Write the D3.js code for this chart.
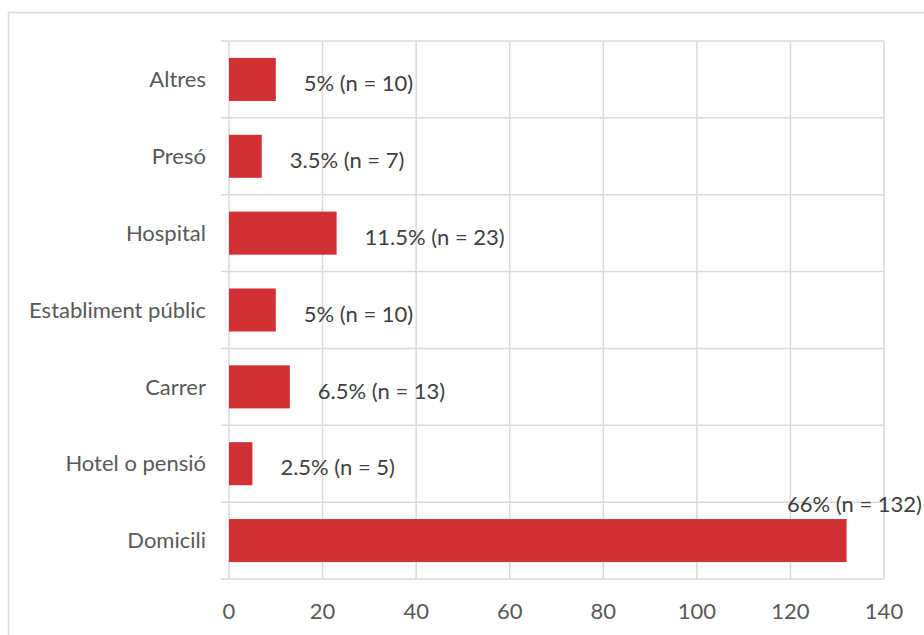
<!DOCTYPE html>
<html>
<head>
<meta charset="utf-8">
<script src="https://cdn.jsdelivr.net/npm/d3@7"></script>
<style>
  body { margin: 0; background: #fff; }
  text { font-family: Lato, "Open Sans", sans-serif; fill: #595959; }
</style>
</head>
<body>
<svg width="924" height="635"></svg>
<script>
// data, top to bottom as in the chart
var categories = ["Altres", "Presó", "Hospital", "Establiment públic", "Carrer", "Hotel o pensió", "Domicili"];
var counts = [10, 7, 23, 10, 13, 5, 132];
var percents = ["5%", "3.5%", "11.5%", "5%", "6.5%", "2.5%", "66%"];
var xTicks = [0, 20, 40, 60, 80, 100, 120, 140];

var data = categories.map(function(c, i) {
    return { name: c, n: counts[i], pct: percents[i] };
});

var svg = d3.select("svg"),
    width = +svg.attr("width"),
    height = +svg.attr("height");

var plotLeft = 229, plotRight = 884, plotTop = 41, plotBottom = 579;
var fontSize = 22;

// chart border
svg.append("rect")
    .attr("x", 8.5).attr("y", 12.5)
    .attr("width", width + 10).attr("height", height + 10)
    .attr("fill", "none")
    .attr("stroke", "#d9d9d9")
    .attr("stroke-width", 1.5);

var x = d3.scaleLinear().domain([0, 140]).range([plotLeft, plotRight]);
var y = d3.scaleBand()
    .domain(categories)
    .range([plotTop, plotBottom])
    .paddingInner(0.44)
    .paddingOuter(0.22);

var g = svg.append("g");

// vertical gridlines
g.selectAll(".vgrid")
    .data(xTicks)
    .enter().append("line")
    .attr("x1", function(d) { return x(d); })
    .attr("x2", function(d) { return x(d); })
    .attr("y1", plotTop).attr("y2", plotBottom)
    .attr("stroke", "#d9d9d9")
    .attr("stroke-width", 1.5);

// horizontal lines at category boundaries
var step = y.step();
g.selectAll(".hgrid")
    .data(d3.range(categories.length + 1))
    .enter().append("line")
    .attr("x1", plotLeft - 8).attr("x2", plotRight)
    .attr("y1", function(i) { return plotTop + i * step; })
    .attr("y2", function(i) { return plotTop + i * step; })
    .attr("stroke", "#d9d9d9")
    .attr("stroke-width", 1.5);

// bars
g.selectAll(".bar")
    .data(data)
    .enter().append("rect")
    .attr("class", "bar")
    .attr("x", x(0))
    .attr("y", function(d) { return y(d.name); })
    .attr("width", function(d) { return x(d.n) - x(0); })
    .attr("height", y.bandwidth())
    .attr("fill", "#d13034");

// category labels
g.selectAll(".cat")
    .data(data)
    .enter().append("text")
    .attr("x", plotLeft - 23)
    .attr("y", function(d) { return y(d.name) + y.bandwidth() / 2; })
    .attr("dy", "0.35em")
    .attr("text-anchor", "end")
    .attr("font-size", fontSize)
    .text(function(d) { return d.name; });

// x tick labels
g.selectAll(".tick")
    .data(xTicks)
    .enter().append("text")
    .attr("x", function(d) { return x(d); })
    .attr("y", 611)
    .attr("dy", "0.35em")
    .attr("text-anchor", "middle")
    .attr("font-size", fontSize)
    .text(function(d) { return d; });

// data labels
g.selectAll(".val")
    .data(data)
    .enter().append("text")
    .attr("font-size", fontSize)
    .style("fill", "#404040")
    .text(function(d) { return d.pct + " (n = " + d.n + ")"; })
    .each(function(d) {
        var t = d3.select(this);
        var w = this.getComputedTextLength();
        var cy = y(d.name) + y.bandwidth() / 2;
        if (x(d.n) + 30 + w > width) {
            // no room on the right: put it above the bar end
            t.attr("x", width - 2).attr("text-anchor", "end")
             .attr("y", y(d.name) - 15).attr("dy", "0.35em");
        } else {
            t.attr("x", x(d.n) + 28).attr("y", cy + 4).attr("dy", "0.35em");
        }
    });
</script>
</body>
</html>
